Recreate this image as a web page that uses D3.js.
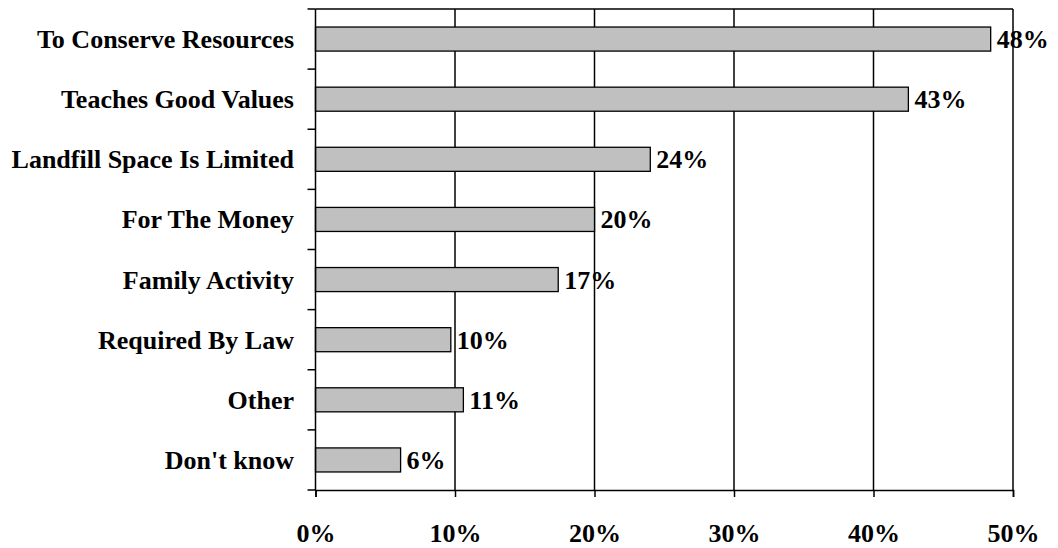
<!DOCTYPE html>
<html>
<head>
<meta charset="utf-8">
<script src="https://cdn.jsdelivr.net/npm/d3@7"></script>
<style>
  html, body { margin: 0; padding: 0; background: #fff; }
  svg { display: block; }
  text { font-family: "Liberation Serif", "Times New Roman", serif; font-weight: bold; fill: #000; }
</style>
</head>
<body>
<svg id="chart" width="1058" height="548"></svg>
<script>
const categories = ["To Conserve Resources", "Teaches Good Values", "Landfill Space Is Limited", "For The Money", "Family Activity", "Required By Law", "Other", "Don't know"];
const values = [48.4, 42.5, 24.0, 20.0, 17.4, 9.7, 10.6, 6.1];
const valueLabels = ["48%", "43%", "24%", "20%", "17%", "10%", "11%", "6%"];
const xTicks = [0, 10, 20, 30, 40, 50];
const xTickLabels = ["0%", "10%", "20%", "30%", "40%", "50%"];

const svg = d3.select("#chart");
const plotLeft = 315.5, plotRight = 1013, plotTop = 9, plotBottom = 490;
const fontSize = 26;

const x = d3.scaleLinear().domain([0, 50]).range([plotLeft, plotRight]);
const y = d3.scaleBand().domain(categories).range([plotTop, plotBottom]).paddingInner(0.6).paddingOuter(0.3);
const step = y.step();

// vertical gridlines
svg.append("g").selectAll("line").data(xTicks.slice(1)).join("line")
  .attr("x1", d => x(d)).attr("x2", d => x(d))
  .attr("y1", plotTop).attr("y2", plotBottom)
  .attr("stroke", "#000").attr("stroke-width", 1.5);

// top border
svg.append("line").attr("x1", plotLeft).attr("x2", plotRight).attr("y1", plotTop).attr("y2", plotTop)
  .attr("stroke", "#000").attr("stroke-width", 1.5);

// bars
svg.append("g").selectAll("rect").data(categories).join("rect")
  .attr("x", x(0))
  .attr("y", d => y(d))
  .attr("width", (d, i) => x(values[i]) - x(0))
  .attr("height", y.bandwidth())
  .attr("fill", "#c0c0c0")
  .attr("stroke", "#000")
  .attr("stroke-width", 1.3);

// value labels
svg.append("g").selectAll("text").data(categories).join("text")
  .attr("x", (d, i) => x(values[i]) + 6)
  .attr("y", d => y(d) + y.bandwidth() / 2 + 9)
  .attr("font-size", fontSize)
  .text((d, i) => valueLabels[i]);

// x axis
const xAxis = d3.axisBottom(x).tickValues(xTicks).tickSize(7).tickFormat((d, i) => xTickLabels[i]);
const gx = svg.append("g").attr("transform", `translate(0,${plotBottom})`).call(xAxis);
gx.select(".domain").attr("stroke", "#000").attr("stroke-width", 1.5);
gx.selectAll(".tick line").attr("stroke", "#000").attr("stroke-width", 1.5);
gx.selectAll(".tick text")
  .attr("font-size", fontSize).attr("font-family", "Liberation Serif").attr("font-weight", "bold")
  .attr("y", 51.5).attr("dy", null);

// y axis line and boundary ticks
svg.append("line").attr("x1", plotLeft).attr("x2", plotLeft).attr("y1", plotTop).attr("y2", plotBottom)
  .attr("stroke", "#000").attr("stroke-width", 1.5);
const bounds = d3.range(categories.length + 1).map(i => plotTop + i * step);
svg.append("g").selectAll("line").data(bounds).join("line")
  .attr("x1", plotLeft - 8).attr("x2", plotLeft)
  .attr("y1", d => d).attr("y2", d => d)
  .attr("stroke", "#000").attr("stroke-width", 1.5);

// category labels
svg.append("g").selectAll("text").data(categories).join("text")
  .attr("x", 294)
  .attr("y", d => y(d) + y.bandwidth() / 2 + 9)
  .attr("text-anchor", "end")
  .attr("font-size", fontSize)
  .text(d => d);
</script>
</body>
</html>
